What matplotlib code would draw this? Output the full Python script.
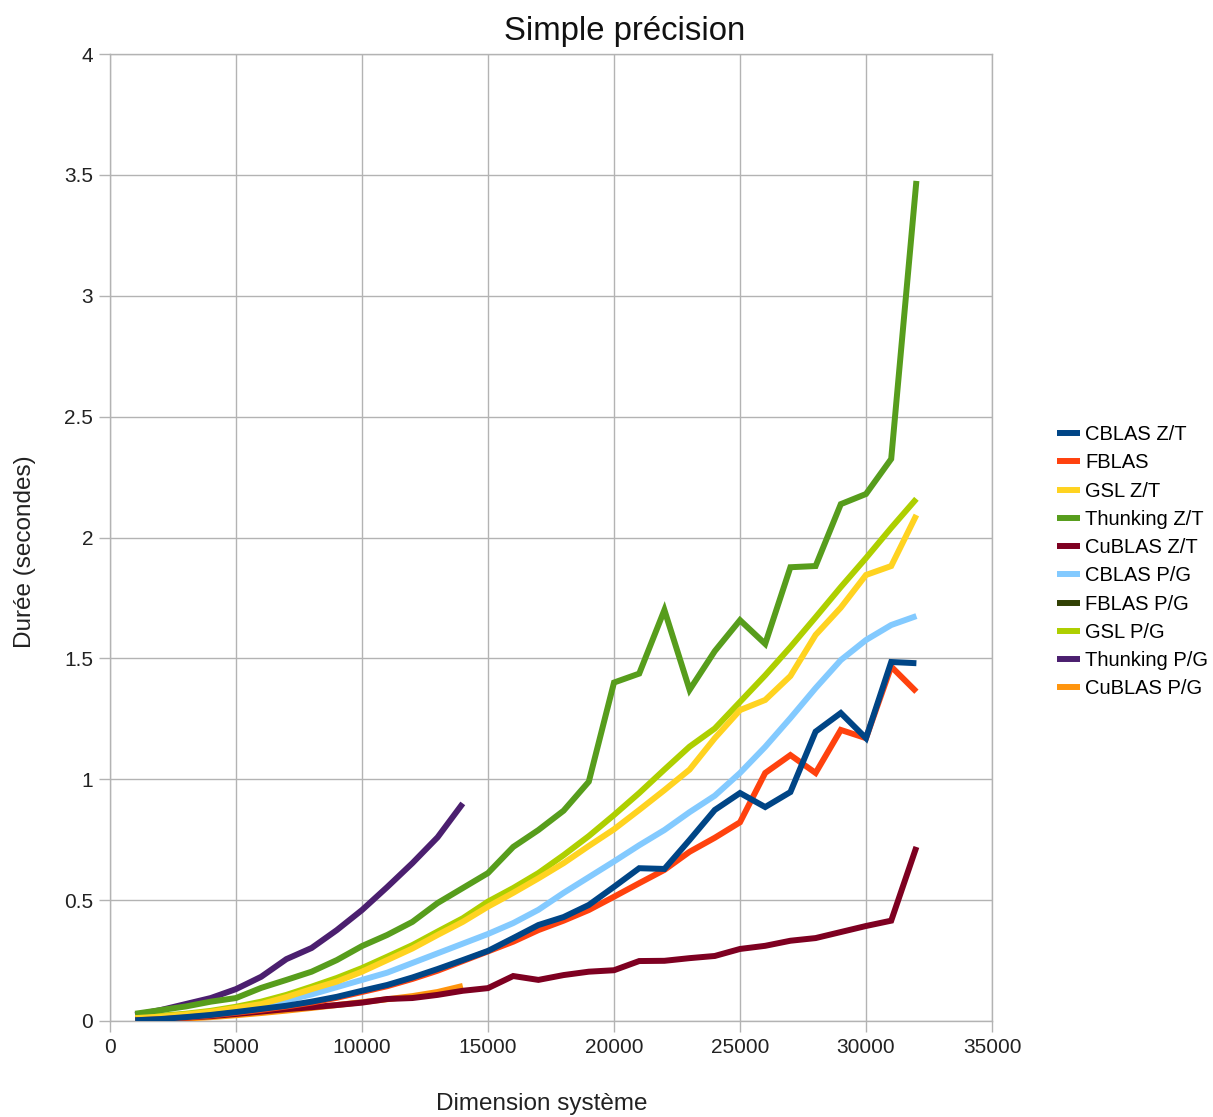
import matplotlib
matplotlib.use("Agg")
import matplotlib.pyplot as plt
import numpy as np

plt.rcParams['font.family'] = ['Liberation Sans', 'DejaVu Sans']

dims = [1000, 2000, 3000, 4000, 5000, 6000, 7000, 8000, 9000, 10000,
        11000, 12000, 13000, 14000, 15000, 16000, 17000, 18000, 19000, 20000,
        21000, 22000, 23000, 24000, 25000, 26000, 27000, 28000, 29000, 30000,
        31000, 32000]

cblas_zt = [0.003, 0.008, 0.016, 0.025, 0.037, 0.05, 0.063, 0.08, 0.1, 0.125,
            0.149, 0.18, 0.215, 0.252, 0.29, 0.343, 0.397, 0.43, 0.48, 0.555,
            0.632, 0.629, 0.749, 0.873, 0.943, 0.885, 0.947, 1.197, 1.274, 1.17,
            1.485, 1.48]
fblas = [0.003, 0.007, 0.014, 0.023, 0.034, 0.046, 0.06, 0.076, 0.096, 0.12,
         0.144, 0.174, 0.208, 0.248, 0.288, 0.328, 0.376, 0.415, 0.459, 0.514,
         0.57, 0.625, 0.70, 0.758, 0.822, 1.026, 1.1, 1.026, 1.204, 1.17,
         1.466, 1.362]
gsl_zt = [0.012, 0.018, 0.027, 0.038, 0.054, 0.07, 0.099, 0.132, 0.163, 0.204,
          0.252, 0.30, 0.356, 0.41, 0.473, 0.53, 0.59, 0.653, 0.724, 0.793,
          0.873, 0.955, 1.04, 1.17, 1.286, 1.328, 1.427, 1.597, 1.71, 1.845,
          1.882, 2.093]
thunk_zt = [0.03, 0.045, 0.06, 0.08, 0.095, 0.137, 0.17, 0.204, 0.252, 0.31,
            0.356, 0.41, 0.488, 0.55, 0.612, 0.72, 0.79, 0.87, 0.99, 1.40,
            1.437, 1.70, 1.37, 1.53, 1.658, 1.56, 1.877, 1.882, 2.138, 2.18,
            2.325, 3.475]
cublas_zt = [0.008, 0.01, 0.014, 0.02, 0.029, 0.039, 0.049, 0.057, 0.066, 0.076,
             0.091, 0.095, 0.108, 0.125, 0.136, 0.186, 0.17, 0.19, 0.204, 0.21,
             0.248, 0.249, 0.26, 0.269, 0.298, 0.311, 0.332, 0.343, 0.368, 0.393,
             0.415, 0.72]
cblas_pg = [0.005, 0.012, 0.02, 0.03, 0.045, 0.065, 0.085, 0.11, 0.14, 0.17,
            0.2, 0.24, 0.28, 0.32, 0.36, 0.405, 0.46, 0.53, 0.595, 0.66,
            0.727, 0.79, 0.864, 0.932, 1.026, 1.134, 1.253, 1.377, 1.493, 1.576,
            1.638, 1.675]
fblas_pg = []  # no visible data in the reference
gsl_pg = [0.015, 0.022, 0.03, 0.042, 0.059, 0.08, 0.108, 0.142, 0.178, 0.219,
          0.266, 0.314, 0.37, 0.425, 0.494, 0.55, 0.612, 0.686, 0.765, 0.852,
          0.943, 1.04, 1.135, 1.21, 1.32, 1.43, 1.547, 1.67, 1.795, 1.915,
          2.04, 2.16]
thunk_pg = [0.025, 0.045, 0.07, 0.095, 0.132, 0.183, 0.256, 0.302, 0.376, 0.459,
            0.554, 0.653, 0.76, 0.9]
cublas_pg = [0.003, 0.006, 0.01, 0.016, 0.024, 0.033, 0.043, 0.054, 0.066, 0.078,
             0.09, 0.103, 0.12, 0.145]

series = [
    ("CBLAS Z/T", cblas_zt, "#004586"),
    ("FBLAS", fblas, "#ff420e"),
    ("GSL Z/T", gsl_zt, "#ffd320"),
    ("Thunking Z/T", thunk_zt, "#579d1c"),
    ("CuBLAS Z/T", cublas_zt, "#7e0021"),
    ("CBLAS P/G", cblas_pg, "#83caff"),
    ("FBLAS P/G", fblas_pg, "#314004"),
    ("GSL P/G", gsl_pg, "#aecf00"),
    ("Thunking P/G", thunk_pg, "#4b1f6f"),
    ("CuBLAS P/G", cublas_pg, "#ff950e"),
]

W, H = 1213, 1117
fig = plt.figure(figsize=(W / 100, H / 100), dpi=100)
ax = fig.add_axes([110 / W, (H - 1021) / H, 882 / W, 967 / H])

n = len(series)
handles = []
for i, (name, vals, col) in enumerate(series):
    ln, = ax.plot(dims[:len(vals)], vals, color=col, lw=4.3, label=name,
                  zorder=10 + (n - i), solid_joinstyle='miter', solid_capstyle='butt')
    handles.append(ln)

ax.set_xlim(0, 35000)
ax.set_ylim(0, 4)
ax.set_xticks(np.arange(0, 35001, 5000))
ax.set_yticks(np.arange(0, 4.01, 0.5))
ax.set_yticklabels(["0", "0.5", "1", "1.5", "2", "2.5", "3", "3.5", "4"])
ax.grid(True, color="#b3b3b3", lw=1.0)
ax.set_axisbelow(True)
for s in ax.spines.values():
    s.set_color("#b3b3b3")
    s.set_linewidth(1.0)
ax.tick_params(axis='both', colors="#b3b3b3", labelcolor="#222222",
               labelsize=15, length=8, width=1.0, direction='out', pad=4)

t = ax.set_title("Simple précision", fontsize=23.7, color="#111111", pad=10)
t.set_x(0.584)
ax.set_xlabel("Dimension système", fontsize=17.5, color="#222222", labelpad=26)
ax.set_ylabel("Durée (secondes)", fontsize=17.5, color="#222222", labelpad=20)
ax.xaxis.label.set_x(0.489)
ax.yaxis.label.set_y(0.485)

leg = fig.legend(handles=handles, loc='upper left',
                 bbox_to_anchor=(1049 / W, 1 - 417 / H),
                 frameon=False, fontsize=14.5, handlelength=1.15,
                 handletextpad=0.25, labelspacing=0.46, borderaxespad=0)
for lh in leg.get_lines():
    lh.set_linewidth(4.3)

fig.savefig("out.png", dpi=100)
